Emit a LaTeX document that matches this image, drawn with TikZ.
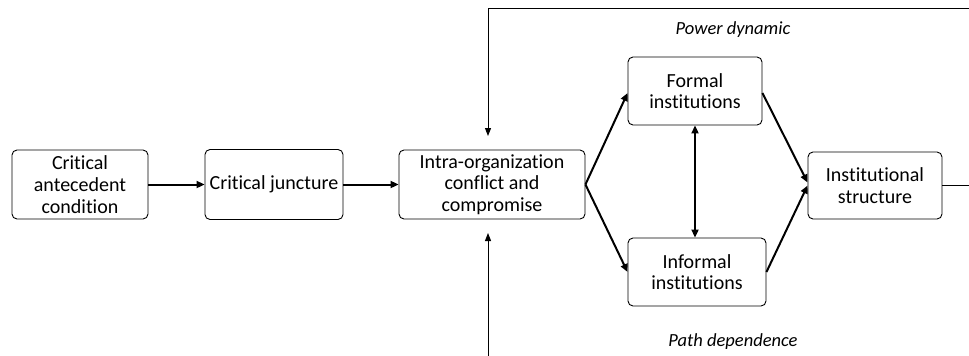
\documentclass[tikz,border=0pt]{standalone}
\usepackage{fontspec}
\setmainfont[Ligatures=NoCommon]{Carlito}
\usetikzlibrary{arrows.meta}
\begin{document}
\begin{tikzpicture}[x=1pt,y=-1pt,
  box/.style={draw, rounded corners=5pt, line width=0.9pt, align=center,
    inner sep=0pt, font=\fontsize{20}{21.7}\selectfont},
  flow/.style={-{Triangle[length=8pt,width=7pt]}, line width=2pt},
  twoway/.style={{Triangle[length=8pt,width=7pt]}-{Triangle[length=8pt,width=7pt]}, line width=2pt},
  fb/.style={-{Triangle[length=8pt,width=6pt]}, line width=1pt},
  lbl/.style={font=\fontsize{18.5}{20}\selectfont\itshape}]
\useasboundingbox (0,0) rectangle (969,356);

% main chain
\node[box, minimum width=136pt, minimum height=69pt] (cac) at (80,184.5) {Critical\\antecedent\\condition};
\node[box, minimum width=138pt, minimum height=70pt] (cj) at (274,184.5) {Critical juncture};
\node[box, minimum width=186pt, minimum height=69pt] (ioc) at (492,184.5) {Intra-organization\\conflict and\\compromise};
\node[box, minimum width=134pt, minimum height=68pt] (fi) at (695,91) {Formal\\institutions};
\node[box, minimum width=138pt, minimum height=68pt] (ii) at (697,272) {Informal\\institutions};
\node[box, minimum width=134pt, minimum height=67pt] (is) at (875,185.5) {Institutional\\structure};

% labels on the feedback loops
\node[lbl] (pd) at (733,30) {Power dynamic};
\node[lbl] (pdep) at (733,342) {Path dependence};

% loop end points
\coordinate (topright) at (969,8);
\coordinate (topcorner) at (488,8);
\coordinate (topin) at (488,136);
\coordinate (botstart) at (488,356);
\coordinate (botin) at (488,233);
\coordinate (rightend) at (969,185.5);

\draw[flow] (cac.east) -- (cj.west);
\draw[flow] (cj.east) -- (ioc.west);
\draw[flow] (ioc.east) -- ([yshift=-2pt]fi.west);
\draw[flow] (ioc.east) -- (ii.west);
\draw[flow] ([yshift=-2pt]fi.east) -- ([yshift=3pt]is.west);
\draw[flow] (ii.east) -- (is.west);
\draw[twoway] (fi.south) -- (fi.south |- ii.north);

\draw[fb] (topright) -- (topcorner) -- (topin);
\draw[fb] (botstart) -- (botin);
\draw[line width=1pt] (is.east) -- (rightend);
\end{tikzpicture}
\end{document}
